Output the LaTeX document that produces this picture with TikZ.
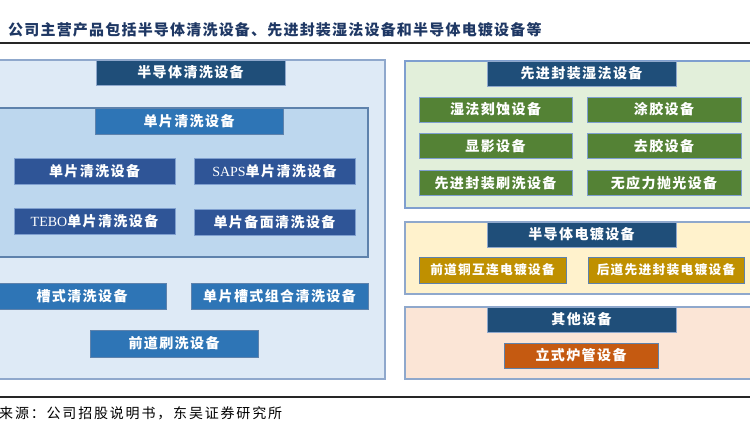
\documentclass[tikz,border=0pt]{standalone}
\usepackage{fontspec}
\newfontfamily\cjk[LetterSpace=10]{Noto Sans CJK SC}
\newfontfamily\cjkt[LetterSpace=8]{Noto Sans CJK SC}
\newfontfamily\cjks[LetterSpace=13]{Noto Sans CJK SC}
\newfontfamily\lat{Liberation Serif}
\definecolor{navy}{HTML}{1F4E79}
\definecolor{midblue}{HTML}{2E75B6}
\definecolor{deepblue}{HTML}{2F5597}
\definecolor{outerfill}{HTML}{DEEAF6}
\definecolor{innerfill}{HTML}{BDD7EE}
\definecolor{panelline}{HTML}{8FA8CC}
\definecolor{innerline}{HTML}{5E82AC}
\definecolor{boxline}{HTML}{7F9FCF}
\definecolor{greenfill}{HTML}{E2EFDA}
\definecolor{greenbox}{HTML}{548235}
\definecolor{yellowfill}{HTML}{FFF2CC}
\definecolor{goldbox}{HTML}{BF9000}
\definecolor{pinkfill}{HTML}{FBE5D6}
\definecolor{orangebox}{HTML}{C55A11}
\definecolor{titlecol}{HTML}{1F3864}
\tikzset{
  panel/.style={draw=panelline, line width=1.4pt, inner sep=0pt},
  hdr/.style={fill=navy, draw=panelline, line width=0.8pt, text=white, inner sep=0pt,
    font=\cjk\bfseries\fontsize{14}{16}\selectfont},
  bx/.style={draw=boxline, line width=1pt, text=white, inner sep=0pt,
    font=\cjk\bfseries\fontsize{14}{16}\selectfont},
  gbx/.style={bx, fill=greenbox, draw=boxline},
  ybx/.style={bx, fill=goldbox, draw=innerline, font=\cjk\bfseries\fontsize{12.7}{15}\selectfont},
}
\begin{document}
\begin{tikzpicture}[x=1pt,y=-1pt]
\useasboundingbox (0,0) rectangle (750,431);
% title
\node[anchor=west, inner sep=0pt, text=titlecol, font=\cjkt\bfseries\fontsize{15}{17}\selectfont] (title) at (8,30) {公司主营产品包括半导体清洗设备、先进封装湿法设备和半导体电镀设备等};
\coordinate (tl1) at (-5,43);
\coordinate (tl2) at (755,43);
\draw[line width=2pt, draw=black!85] (tl1) -- (tl2);
% left outer panel
\node[panel, fill=outerfill, minimum width=390pt, minimum height=319pt] (L) at (190,219.5) {};
\node[hdr, minimum width=189pt, minimum height=25pt] (LH) at (190.5,72.5) {半导体清洗设备};
\node[panel, fill=innerfill, draw=innerline, line width=1.2pt, minimum width=373pt, minimum height=149pt] (I) at (181.5,182.5) {};
\node[bx, fill=midblue, draw=innerline, minimum width=188pt, minimum height=26pt] (IH) at (189,121) {单片清洗设备};
\node[bx, fill=deepblue, minimum width=161pt, minimum height=26pt] (b11) at (94.5,171) {单片清洗设备};
\node[bx, fill=deepblue, minimum width=161pt, minimum height=26pt] (b12) at (274.5,171) {{\lat\mdseries SAPS}单片清洗设备};
\node[bx, fill=deepblue, minimum width=161pt, minimum height=26pt] (b21) at (94.5,221) {{\lat\mdseries TEBO}单片清洗设备};
\node[bx, fill=deepblue, minimum width=161pt, minimum height=26pt] (b22) at (274.5,222) {单片备面清洗设备};
\node[bx, fill=midblue, draw=innerline, minimum width=168pt, minimum height=26pt] (c1) at (82,296) {槽式清洗设备};
\node[bx, fill=midblue, draw=innerline, minimum width=177pt, minimum height=26pt] (c2) at (279.5,296) {单片槽式组合清洗设备};
\node[bx, fill=midblue, draw=innerline, minimum width=168pt, minimum height=27pt] (c3) at (174,343.5) {前道刷洗设备};
% right panel 1
\node[panel, fill=greenfill, draw=boxline, minimum width=350pt, minimum height=147pt] (R1) at (580,134.5) {};
\node[hdr, minimum width=189pt, minimum height=25pt] (RH1) at (581.5,73.5) {先进封装湿法设备};
\node[gbx, minimum width=153pt, minimum height=25pt] (g11) at (495.5,109.5) {湿法刻蚀设备};
\node[gbx, minimum width=154pt, minimum height=25pt] (g12) at (664,109.5) {涂胶设备};
\node[gbx, minimum width=153pt, minimum height=25pt] (g21) at (495.5,146) {显影设备};
\node[gbx, minimum width=154pt, minimum height=25pt] (g22) at (664,146) {去胶设备};
\node[gbx, minimum width=153pt, minimum height=25pt] (g31) at (495.5,183) {先进封装刷洗设备};
\node[gbx, minimum width=154pt, minimum height=25pt] (g32) at (664,183) {无应力抛光设备};
% right panel 2
\node[panel, fill=yellowfill, minimum width=350pt, minimum height=72pt] (R2) at (580,258) {};
\node[hdr, minimum width=189pt, minimum height=25pt] (RH2) at (581.5,234.5) {半导体电镀设备};
\node[ybx, minimum width=147pt, minimum height=26pt] (y1) at (492.5,270) {前道铜互连电镀设备};
\node[ybx, minimum width=156pt, minimum height=26pt] (y2) at (666,270) {后道先进封装电镀设备};
% right panel 3
\node[panel, fill=pinkfill, minimum width=350pt, minimum height=72pt] (R3) at (580,343) {};
\node[hdr, minimum width=189pt, minimum height=25pt] (RH3) at (581.5,319.5) {其他设备};
\node[bx, fill=orangebox, draw=innerline, minimum width=154pt, minimum height=25pt] (o1) at (581,355.5) {立式炉管设备};
% bottom
\coordinate (bl1) at (-5,397);
\coordinate (bl2) at (755,397);
\draw[line width=1.5pt, draw=black!85] (bl1) -- (bl2);
\node[anchor=west, inner sep=0pt, text=black, font=\cjks\fontsize{14}{16}\selectfont] (src) at (-1,413) {来源：公司招股说明书，东吴证券研究所};
\end{tikzpicture}
\end{document}
